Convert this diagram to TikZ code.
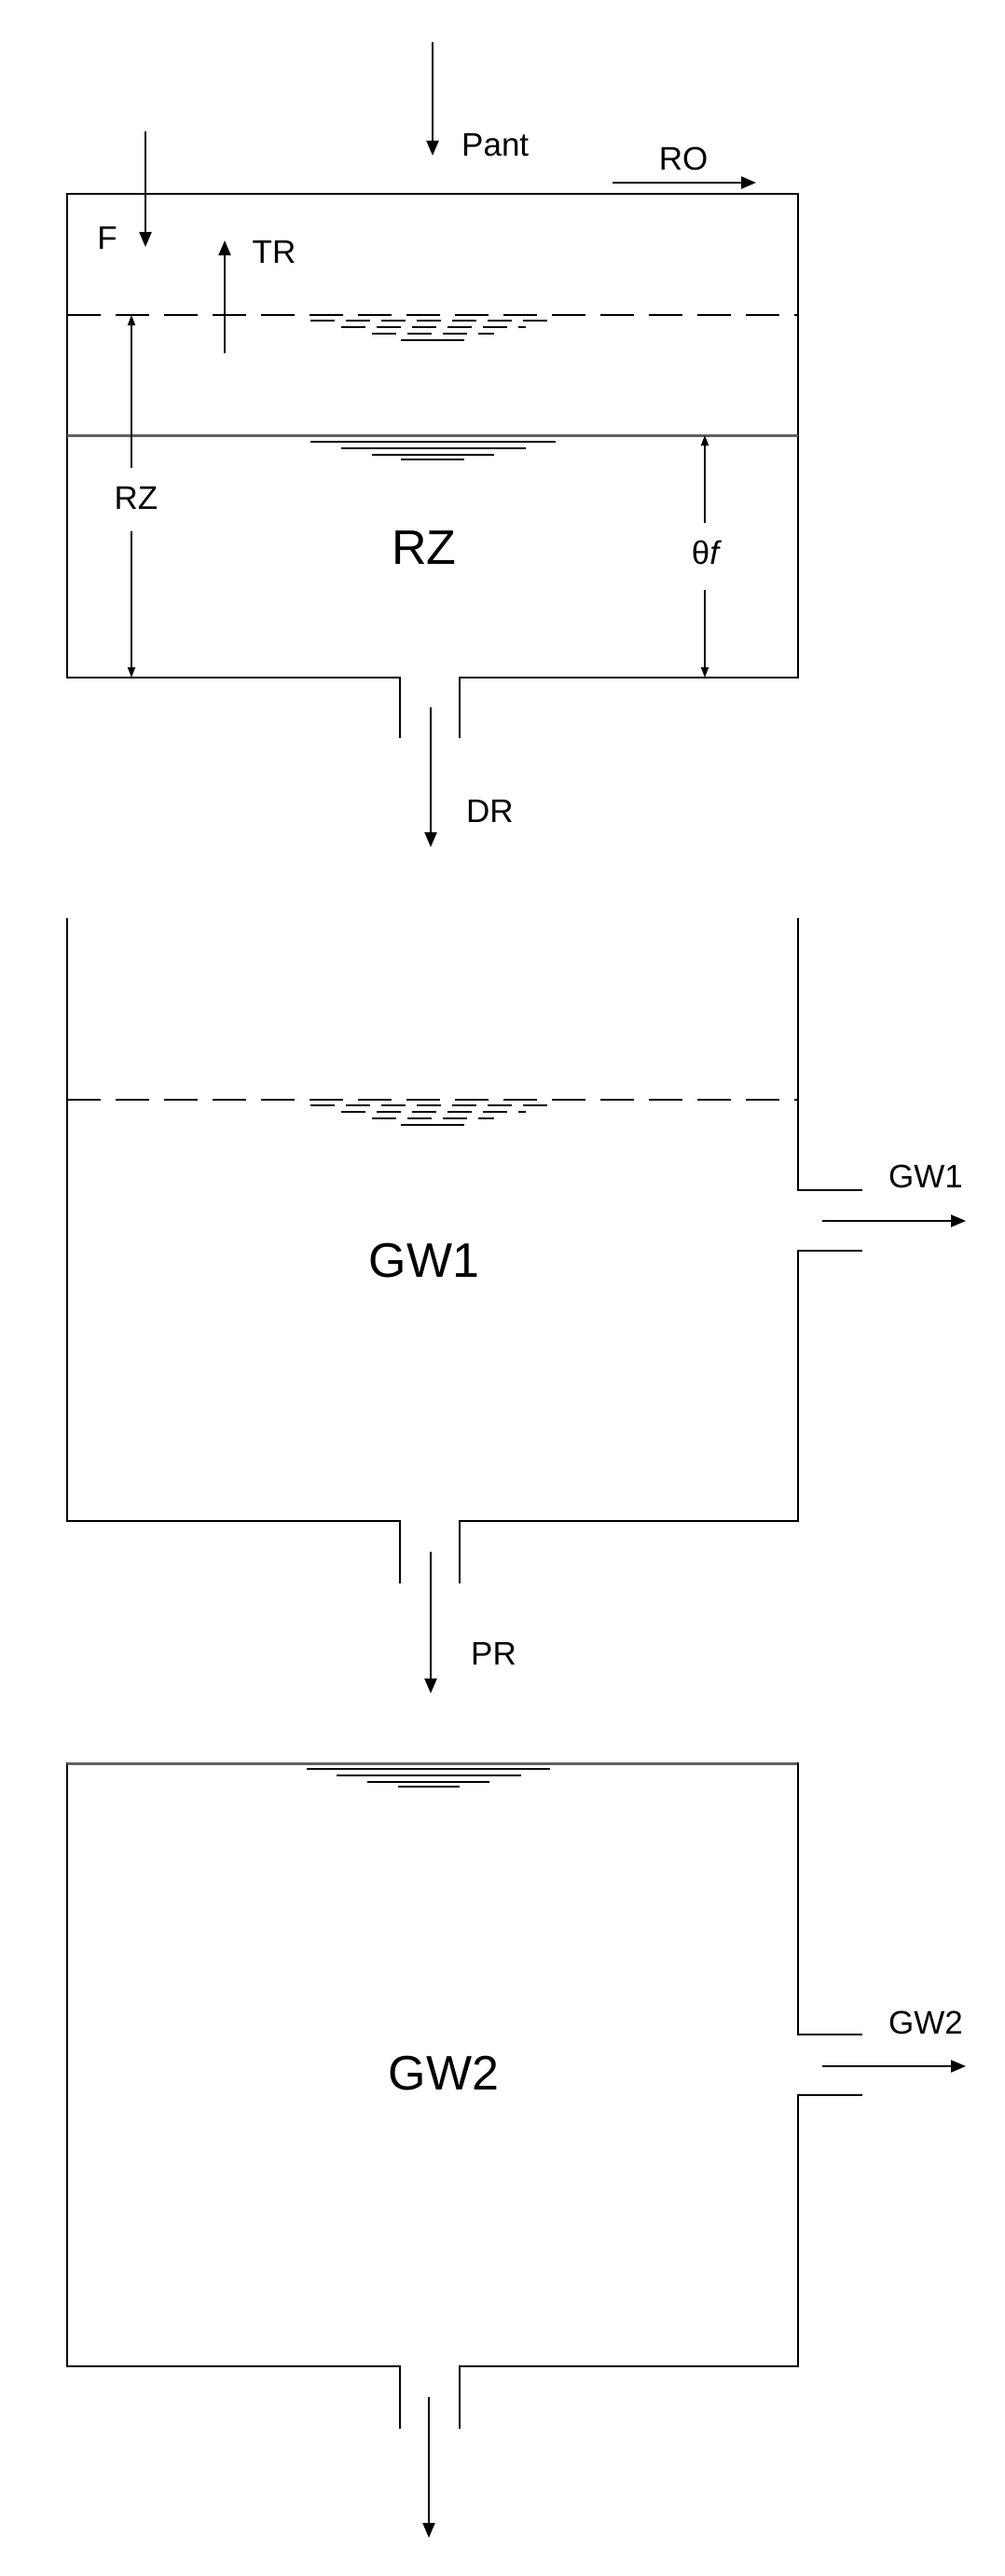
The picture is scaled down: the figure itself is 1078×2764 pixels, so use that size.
\documentclass[tikz,border=0pt]{standalone}
\usepackage{fontspec}
\setmainfont{Liberation Sans}
\usetikzlibrary{arrows.meta}
\begin{document}
\begin{tikzpicture}[x=1pt,y=-1pt,
  wall/.style={line width=2.2pt,line cap=rect},
  flow/.style={line width=2pt,-{Triangle[length=16pt,width=13pt]}},
  thin/.style={line width=1.5pt,-{Triangle[length=11pt,width=8pt]}},
  sm/.style={font=\fontsize{35}{40}\selectfont,inner sep=0pt},
  big/.style={font=\fontsize{52}{58}\selectfont,inner sep=0pt},
  wat/.style={line width=2pt},
  dwat/.style={line width=2pt,dash pattern=on 26pt off 12pt}]
\useasboundingbox (0,0) rectangle (1078,2764);
% ---------- RZ box ----------
\draw[wall] (429,791) -- (429,727) -- (72,727) -- (72,208) -- (856,208) -- (856,727) -- (493,727) -- (493,791);
\draw[line width=2pt,dash pattern=on 36pt off 16pt] (72,338) -- (856,338);
\draw[line width=3pt,gray!75!black] (72,467) -- (856,467);
\foreach \y/\a/\b in {344/333/596,351/366/564,358/399/530}
  \draw[dwat] (\a,\y) -- (\b,\y);
\draw[wat] (430,365) -- (498,365);
\foreach \y/\a/\b in {474/333/596,481/366/564,488/399/530,493/430/498}
  \draw[wat] (\a,\y) -- (\b,\y);
% Pant
\coordinate (p1) at (464,45); \coordinate (p2) at (464,167);
\draw[flow] (p1) -- (p2);
\node[sm,anchor=west] (pant) at (495,156) {Pant};
% RO
\coordinate (r1) at (657,196); \coordinate (r2) at (811,196);
\draw[flow] (r1) -- (r2);
\node[sm] (ro) at (733,170) {RO};
% F
\coordinate (f1) at (156,141); \coordinate (f2) at (156,265);
\draw[flow] (f1) -- (f2);
\node[sm] (f) at (115,255) {F};
% TR
\coordinate (t1) at (241,379); \coordinate (t2) at (241,258);
\draw[flow] (t1) -- (t2);
\node[sm] (tr) at (294,270) {TR};
% RZ dimension
\node[sm] (rzl) at (146,534) {RZ};
\coordinate (rz1) at (141,502); \coordinate (rz2) at (141,338);
\coordinate (rz3) at (141,570); \coordinate (rz4) at (141,727);
\draw[thin] (rz1) -- (rz2); \draw[thin] (rz3) -- (rz4);
% theta f dimension
\node[sm] (thf) at (758,593) {θ\textit{f}};
\coordinate (q1) at (756,561); \coordinate (q2) at (756,467);
\coordinate (q3) at (756,633); \coordinate (q4) at (756,727);
\draw[thin] (q1) -- (q2); \draw[thin] (q3) -- (q4);
\node[big] (rz) at (455,588) {RZ};
% DR
\coordinate (d1) at (462,759); \coordinate (d2) at (462,909);
\draw[flow] (d1) -- (d2);
\node[sm,anchor=west] (dr) at (500,870) {DR};
% ---------- GW1 box ----------
\draw[wall] (72,986) -- (72,1632) -- (429,1632) -- (429,1698);
\draw[wall] (856,986) -- (856,1277) -- (924,1277);
\draw[wall] (924,1342) -- (856,1342) -- (856,1632) -- (493,1632) -- (493,1698);
\draw[line width=2pt,dash pattern=on 36pt off 16pt] (72,1180) -- (856,1180);
\foreach \y/\a/\b in {1186/333/596,1193/366/564,1200/399/530}
  \draw[dwat] (\a,\y) -- (\b,\y);
\draw[wat] (430,1207) -- (498,1207);
\coordinate (g1a) at (882,1310); \coordinate (g1b) at (1036,1310);
\draw[flow] (g1a) -- (g1b);
\node[sm] (gw1l) at (993,1262) {GW1};
\node[big] (gw1) at (455,1353) {GW1};
% PR
\coordinate (pr1) at (462,1665); \coordinate (pr2) at (462,1817);
\draw[flow] (pr1) -- (pr2);
\node[sm,anchor=west] (pr) at (505,1774) {PR};
% ---------- GW2 box ----------
\draw[wall] (429,2605) -- (429,2539) -- (72,2539) -- (72,1892);
\draw[line width=3pt,gray!75!black] (72,1892) -- (856,1892);
\draw[wall] (856,1892) -- (856,2183) -- (924,2183);
\draw[wall] (924,2248) -- (856,2248) -- (856,2539) -- (493,2539) -- (493,2605);
\foreach \y/\a/\b in {1898/329/590,1905/361/559,1912/394/525,1917/427/493}
  \draw[wat] (\a,\y) -- (\b,\y);
\coordinate (g2a) at (882,2217); \coordinate (g2b) at (1036,2217);
\draw[flow] (g2a) -- (g2b);
\node[sm] (gw2l) at (993,2170) {GW2};
\node[big] (gw2) at (476,2225) {GW2};
\coordinate (o1) at (460,2572); \coordinate (o2) at (460,2723);
\draw[flow] (o1) -- (o2);
\end{tikzpicture}
\end{document}
